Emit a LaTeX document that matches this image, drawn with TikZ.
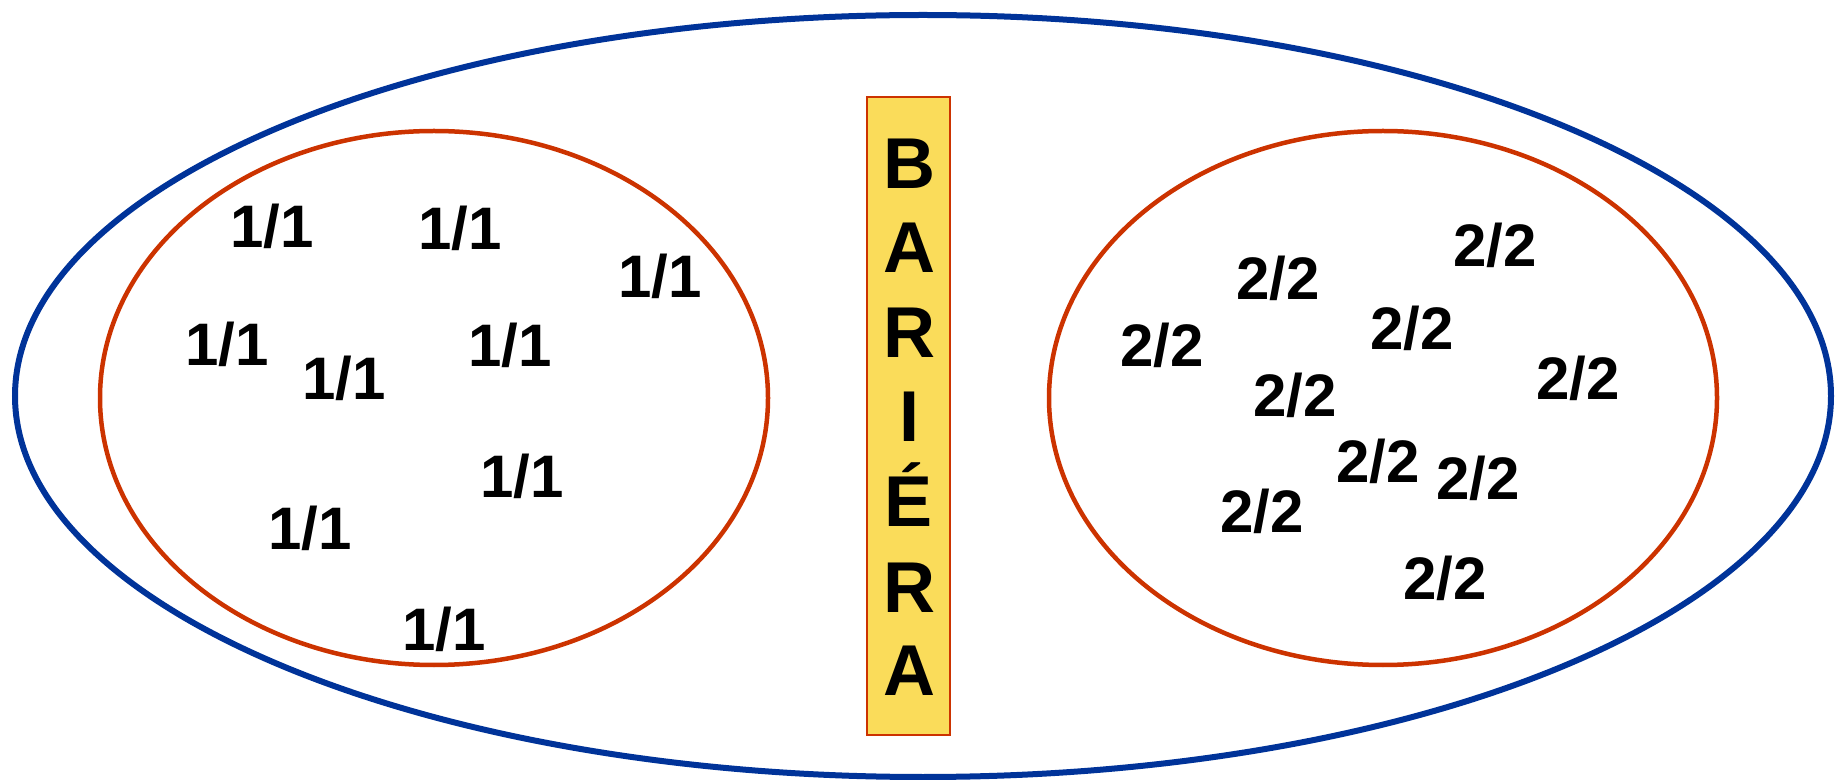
\documentclass[tikz,border=0pt]{standalone}
\usepackage{fontspec}
\setmainfont{Liberation Sans}
\usepackage{tikz}
\usetikzlibrary{shapes.geometric}
\definecolor{outerblue}{RGB}{0,51,153}
\definecolor{groupred}{RGB}{204,51,0}
\definecolor{baryellow}{RGB}{250,220,90}

\begin{document}
\begin{tikzpicture}[x=0.5pt,y=-0.5pt,
    group/.style={draw=groupred, line width=2.25pt, ellipse, inner sep=0pt, minimum width=334pt, minimum height=267pt},
    num/.style={anchor=base, inner sep=0pt, font=\fontsize{30}{30}\selectfont\bfseries},
    letter/.style={anchor=base, inner sep=0pt, font=\fontsize{36}{36}\selectfont\bfseries}]
      \useasboundingbox (0,0) rectangle (1838,780);
      \node[draw=outerblue, line width=3pt, ellipse, inner sep=0pt, minimum width=908pt, minimum height=381pt] (whole) at (923,396) {};
      \node[group] (groupone) at (434,398) {};
      \node[group] (grouptwo) at (1383,398) {};
      \node[draw=groupred, line width=1pt, fill=baryellow, inner sep=0pt, minimum width=41.5pt, minimum height=319pt] (barrier) at (908.5,416) {};
      \node[letter] (b1) at (909,189) {B};
      \node[letter] (b2) at (909,273) {A};
      \node[letter] (b3) at (909,358) {R};
      \node[letter] (b4) at (909,442) {I};
      \node[letter] (b5) at (909,527) {É};
      \node[letter] (b6) at (909,612) {R};
      \node[letter] (b7) at (909,696) {A};
      \node[num] (one1) at (272,248) {1/1};
      \node[num] (one2) at (460,250) {1/1};
      \node[num] (one3) at (660,298) {1/1};
      \node[num] (one4) at (227,366) {1/1};
      \node[num] (one5) at (344,400) {1/1};
      \node[num] (one6) at (510,367) {1/1};
      \node[num] (one7) at (522,498) {1/1};
      \node[num] (one8) at (310,550) {1/1};
      \node[num] (one9) at (444,650) {1/1};
      \node[num] (two1) at (1495,267) {2/2};
      \node[num] (two2) at (1278,300) {2/2};
      \node[num] (two3) at (1162,367) {2/2};
      \node[num] (two4) at (1412,350) {2/2};
      \node[num] (two5) at (1578,400) {2/2};
      \node[num] (two6) at (1295,417) {2/2};
      \node[num] (two7) at (1378,483) {2/2};
      \node[num] (two8) at (1478,500) {2/2};
      \node[num] (two9) at (1262,533) {2/2};
      \node[num] (two10) at (1445,600) {2/2};
\end{tikzpicture}
\end{document}
